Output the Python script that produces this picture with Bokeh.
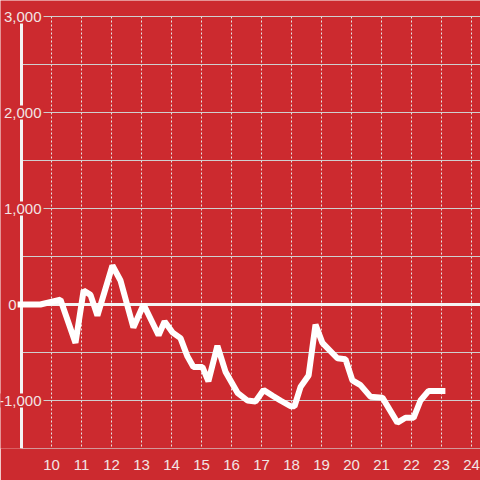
from bokeh.plotting import figure
from bokeh.models import Range1d, FixedTicker, ColumnDataSource
from bokeh.core.properties import value
from bokeh.embed import file_html
from bokeh.resources import INLINE

# ---- data ----
hours = [8.87, 9.63, 10.3, 10.8, 11.07, 11.3, 11.53, 12.03, 12.3, 12.73, 13.07,
         13.57, 13.77, 14.03, 14.3, 14.53, 14.73, 15.03, 15.23, 15.53, 15.8,
         16.2, 16.53, 16.8, 17.07, 17.37, 17.63, 17.97, 18.1, 18.3, 18.57,
         18.8, 19.03, 19.53, 19.8, 20.03, 20.3, 20.63, 21.03, 21.53, 21.8,
         22.07, 22.3, 22.57, 23.13]
values = [0, 0, 50, -400, 146, 100, -115, 406, 250, -240, 0,
          -320, -177, -290, -350, -540, -650, -650, -800, -430, -700,
          -920, -1000, -1010, -890, -950, -1000, -1060, -1060, -860, -740,
          -210, -400, -560, -570, -790, -840, -960, -970, -1230, -1180,
          -1180, -1000, -900, -900]

x_ticks = list(range(10, 25))
y_major = [3000, 2000, 1000, 0, -1000]
y_major_labels = ["3,000", "2,000", "1,000", "0", "-1,000"]
y_minor = [2500, 1500, 500, -500]
y_bottom = -1500
x_axis_at = 9

BG = "#cc2a2f"
GRID = "#cfcfcf"
LABEL = "#f2e4e4"
FONT = "Liberation Sans"

X0, X1 = 8.3, 24.3
Y0, Y1 = -1500, 3166.67

p = figure(width=480, height=480, output_backend="svg", toolbar_location=None,
           x_range=Range1d(X0, X1), y_range=Range1d(Y0, Y1),
           min_border_left=0, min_border_right=0, min_border_top=0,
           min_border_bottom=32)
p.background_fill_color = BG
p.border_fill_color = BG
p.outline_line_color = None
p.yaxis.visible = False
p.grid.visible = False

ax = p.xaxis[0]
ax.ticker = FixedTicker(ticks=x_ticks)
ax.axis_line_color = None
ax.major_tick_line_color = None
ax.minor_tick_line_color = None
ax.major_label_text_font = FONT
ax.major_label_text_font_size = "15px"
ax.major_label_text_color = LABEL
ax.major_label_standoff = 5

# vertical dotted grid
p.segment(x0=x_ticks, x1=x_ticks, y0=[max(y_major)] * len(x_ticks),
          y1=[y_bottom] * len(x_ticks), line_color="#e6e6e6", line_width=1,
          line_dash="2 2")

# horizontal grid
hy = [v for v in y_major if v != 0] + y_minor + [y_bottom]
p.segment(x0=[x_axis_at] * len(hy), x1=[X1] * len(hy), y0=hy, y1=hy,
          line_color=GRID, line_width=1)
# zero line
p.segment(x0=[x_axis_at], x1=[X1], y0=[0], y1=[0], line_color="#f4f4f4",
          line_width=3)

# y axis line
p.segment(x0=[x_axis_at], x1=[x_axis_at], y0=[max(y_major)], y1=[y_bottom],
          line_color="#f4f4f4", line_width=3)

# y labels
nz = [i for i, v in enumerate(y_major) if v != 0]
src = ColumnDataSource(dict(x=[x_axis_at] * len(nz), y=[y_major[i] for i in nz],
                            t=[y_major_labels[i] for i in nz]))
p.text(x="x", y="y", text="t", source=src, x_offset=22, text_align="right",
       text_baseline="middle", text_font=value(FONT), text_font_size="15px",
       text_color=LABEL, background_fill_color=BG, padding=2)
zi = y_major.index(0)
p.text(x=[x_axis_at], y=[0], text=[y_major_labels[zi]], x_offset=-5,
       text_align="right", text_baseline="middle", text_font=value(FONT),
       text_font_size="15px", text_color=LABEL)

# data line
p.line(hours, values, line_color="white", line_width=6)

open("out.html", "w").write(file_html(p, INLINE))
